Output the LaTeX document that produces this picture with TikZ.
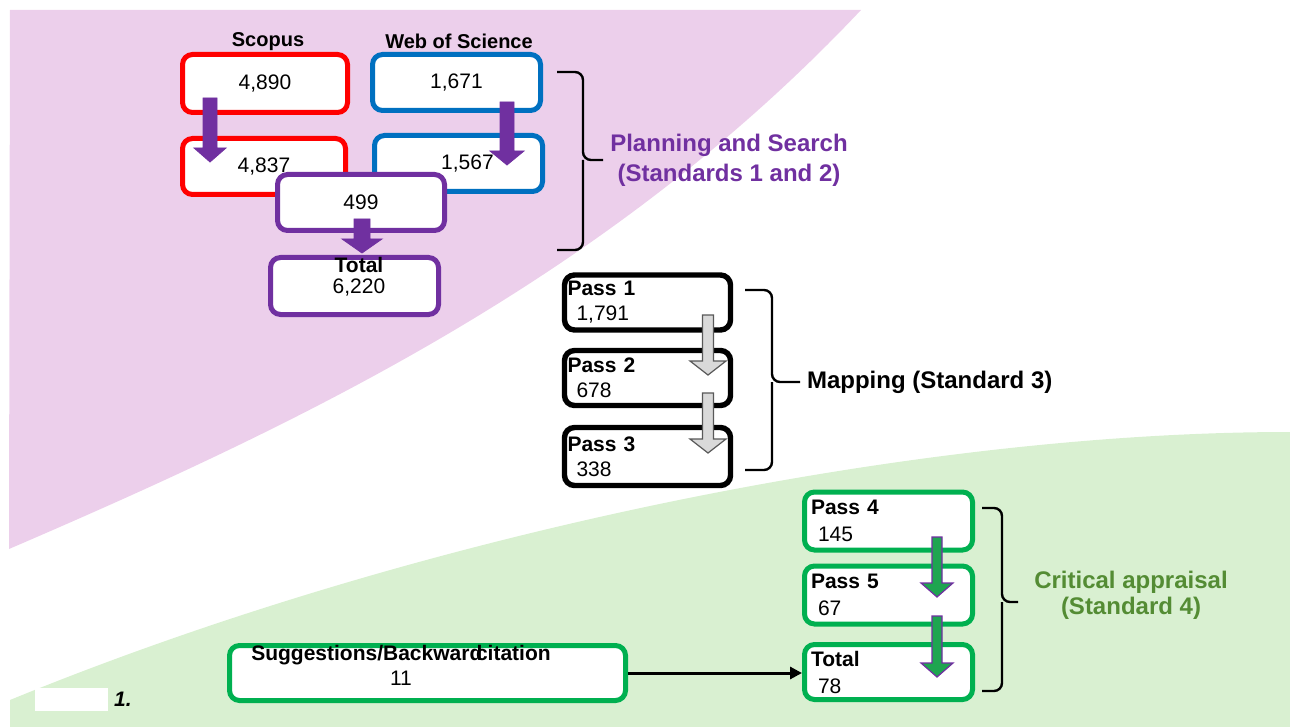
\documentclass[tikz,border=0pt]{standalone}
\usepackage{fontspec}
\setmainfont{Liberation Sans}
\usetikzlibrary{arrows.meta,calc,positioning}

\definecolor{bgpink}{RGB}{236,207,235}
\definecolor{bggreen}{RGB}{217,240,209}
\definecolor{scred}{RGB}{255,0,0}
\definecolor{wosblue}{RGB}{0,112,192}
\definecolor{purp}{RGB}{112,48,160}
\definecolor{boxgreen}{RGB}{0,176,80}
\definecolor{critgreen}{RGB}{84,140,52}
\definecolor{arrgray}{RGB}{217,217,217}
\definecolor{arrgreen}{RGB}{30,165,80}

%% filled block arrow: style, from, tip, half shaft, half head
\newcommand{\blockarrow}[5]{%
  \draw[#1] ($(#2)+(-#4,0)$) -- ($(#2)+(#4,0)$) -- ($(#3)+(#4,-14)$) -- ($(#3)+(#5,-14)$)
    -- (#3) -- ($(#3)+(-#5,-14)$) -- ($(#3)+(-#4,-14)$) -- cycle;}

\begin{document}
\begin{tikzpicture}[x=0.5pt,y=-0.5pt,font=\fontsize{10.5}{12.5}\selectfont,
  box/.style={draw,line width=2.5pt,rounded corners=5pt,fill=white,inner sep=0pt},
  passbox/.style={box,line width=2.7pt,text width=80pt,align=left,inner xsep=1.5pt,minimum height=27.5pt},
  gpassbox/.style={box,draw=boxgreen,text width=77.5pt,align=left,inner xsep=3.25pt,minimum height=29pt},
  brace/.style={line width=1.2pt,rounded corners=4pt},
  stage/.style={font=\bfseries\fontsize{12}{15}\selectfont,align=center}]%
\useasboundingbox (0,0) rectangle (1290,727);
%% background bands
\fill[bgpink] (10,10) -- (861,10) .. controls (611,275) and (309,420) .. (9,549) -- cycle;
\fill[bggreen] (10,700) .. controls (400,540) and (900,432) .. (1290,432) -- (1290,727) -- (10,727) -- cycle;
\fill[white] (35,688) rectangle (108,711);
\node[font=\bfseries\itshape\fontsize{10.5}{12}\selectfont] (fig) at (123,699) {1.};
%% planning and search
\node[font=\bfseries] (scopus) at (268,42) {Scopus};
\node[font=\bfseries] (wos) at (459,41) {Web of Science};
\node[box,draw=scred,minimum width=82.5pt,minimum height=29pt] (sc1) at (265,83.5) {4,890};
\node[box,draw=wosblue,minimum width=84pt,minimum height=28pt] (wos1) at (456.5,82.5) {1,671};
\node[box,draw=scred,minimum width=81.5pt,minimum height=28pt] (sc2) at (264,166.5) {4,837\hspace{14pt}};
\node[box,draw=wosblue,minimum width=84pt,minimum height=28pt] (wos2) at (458.5,163.5) {\hspace{9pt}1,567};
\node[box,draw=purp,minimum width=83.5pt,minimum height=28pt] (n499) at (361,202.5) {499};
\node[box,draw=purp,minimum width=84pt,minimum height=28.5pt] (tot1) at (354.5,286) {};
\node[align=center,font=\fontsize{10.5}{10.5}\selectfont] (tot1-txt) at (359,276.5) {\textbf{Total}\\6,220};
\coordinate (sc-a) at (210,98);   \coordinate (sc-b) at (210,162);
\coordinate (wos-a) at (507,102); \coordinate (wos-b) at (507,165);
\coordinate (tot-a) at (362,219); \coordinate (tot-b) at (362,253);
\blockarrow{fill=purp,draw=purp}{sc-a}{sc-b}{7}{16}
\blockarrow{fill=purp,draw=purp}{wos-a}{wos-b}{7}{17}
\blockarrow{fill=purp,draw=purp}{tot-a}{tot-b}{8}{20}
%% mapping
\node[passbox] (p1) at (647.5,302.5) {\textbf{Pass 1}\\\hspace*{4.5pt}1,791};
\node[passbox] (p2) at (647.5,378) {\textbf{Pass 2}\\\hspace*{4.5pt}678};
\node[passbox,minimum height=29pt] (p3) at (647.5,456.5) {\textbf{Pass 3}\\\hspace*{4.5pt}338};
\coordinate (m1-a) at (708,315); \coordinate (m1-b) at (708,375);
\coordinate (m2-a) at (708,393); \coordinate (m2-b) at (708,453);
\blockarrow{fill=arrgray,draw=gray!70!black,line width=0.6pt}{m1-a}{m1-b}{5.5}{18}
\blockarrow{fill=arrgray,draw=gray!70!black,line width=0.6pt}{m2-a}{m2-b}{5.5}{18}
%% critical appraisal
\node[gpassbox] (p4) at (888.5,521) {\textbf{Pass 4}\\[1pt]\hspace*{3.5pt}145};
\node[gpassbox] (p5) at (888.5,595) {\textbf{Pass 5}\\[1pt]\hspace*{3.5pt}67};
\node[gpassbox,minimum height=27.5pt] (tot2) at (888.5,672) {\textbf{Total}\\[1pt]\hspace*{3.5pt}78};
\coordinate (c1-a) at (937,537); \coordinate (c1-b) at (937,597);
\coordinate (c2-a) at (937,616); \coordinate (c2-b) at (937,677);
\blockarrow{fill=arrgreen,draw=purp,line width=0.6pt}{c1-a}{c1-b}{5}{16}
\blockarrow{fill=arrgreen,draw=purp,line width=0.6pt}{c2-a}{c2-b}{5}{16}
\node[box,draw=boxgreen,minimum width=198pt,minimum height=27.5pt] (sugg) at (427.5,673) {};
\node[align=center] (sugg-txt) at (401,665.5) {\textbf{Suggestions/Backward\kern-.3em citation}\\11};
\draw[line width=1.5pt,-{Triangle[length=6pt,width=6pt]}] (sugg.east) -- (sugg.east -| tot2.west);
%% stage labels and braces
\node[stage,text=purp] (plan) at (729,160) {Planning and Search\\(Standards 1 and 2)};
\node[stage,anchor=west] (map) at (800,382) {Mapping (Standard 3)};
\node[stage,text=critgreen,font=\bfseries\fontsize{12}{13}\selectfont] (crit) at (1131,595) {Critical appraisal\\(Standard 4)};
\draw[brace] (557,72) -- (583,72) -- (583,160) -- (plan.west);
\draw[brace] (557,250) -- (583,250) -- (583,160);
\draw[brace] (745,290) -- (772,290) -- (772,382) -- (map.west);
\draw[brace] (745,470) -- (772,470) -- (772,382);
\draw[brace] (982,508) -- (1002,508) -- (1002,602) -- ++(16,0);
\draw[brace] (982,691) -- (1002,691) -- (1002,602);
\end{tikzpicture}
\end{document}
